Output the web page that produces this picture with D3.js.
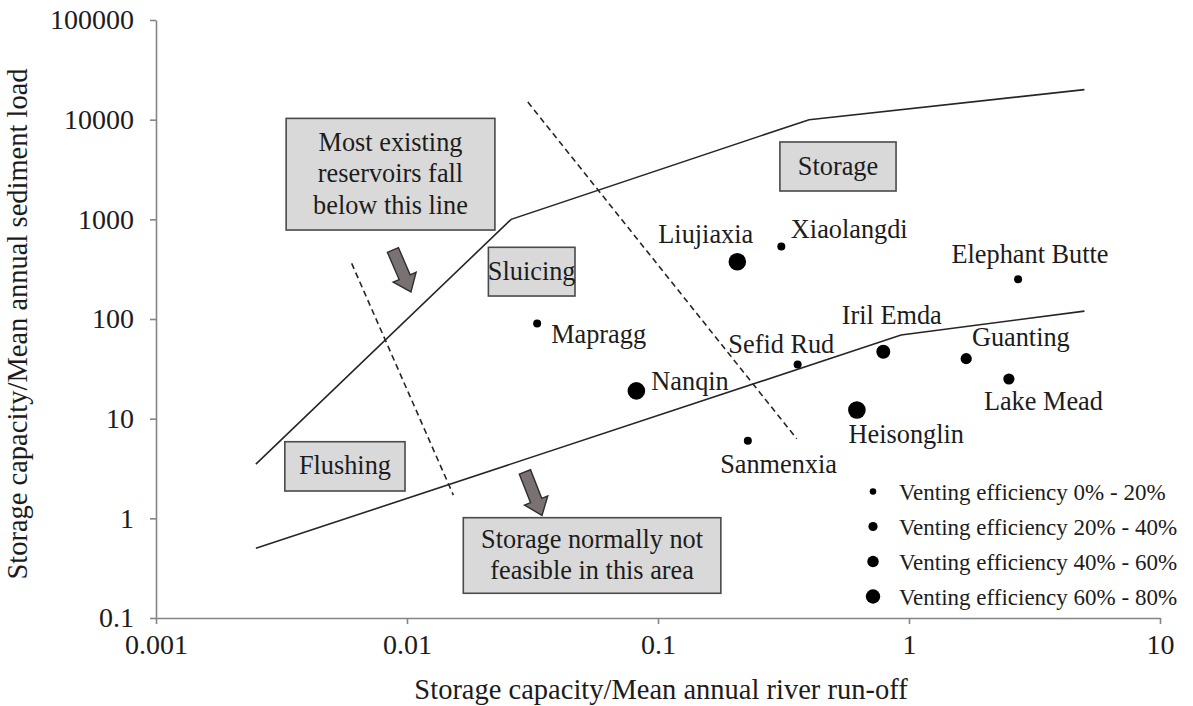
<!DOCTYPE html>
<html>
<head>
<meta charset="utf-8">
<script src="https://cdn.jsdelivr.net/npm/d3@7"></script>
<style>
  html, body { margin: 0; padding: 0; background: #ffffff; }
  svg text { font-family: "Liberation Serif", "Times New Roman", Times, "Noto Serif", "DejaVu Serif", serif; fill: #1c1c1c; }
</style>
</head>
<body>
<svg id="chart" width="1193" height="706"></svg>
<script>
// ---- Reservoir data ----
const reservoirs       = ["Mapragg", "Nanqin", "Liujiaxia", "Xiaolangdi", "Elephant Butte", "Iril Emda",
                          "Sefid Rud", "Guanting", "Lake Mead", "Heisonglin", "Sanmenxia"];
const capacityRunoff   = [0.033, 0.082, 0.207, 0.31, 2.72, 0.79, 0.36, 1.69, 2.5, 0.62, 0.228];
const capacitySediment = [90, 19, 375, 535, 250, 47, 35, 40, 25, 12.2, 6];
const ventingClass     = [0, 3, 3, 0, 0, 2, 0, 1, 1, 3, 0];   // index into ventingLabels
const ventingLabels    = ["Venting efficiency 0% - 20%", "Venting efficiency 20% - 40%",
                          "Venting efficiency 40% - 60%", "Venting efficiency 60% - 80%"];

// ---- Axis ticks ----
const xTicks      = [0.001, 0.01, 0.1, 1, 10];
const xTickLabels = ["0.001", "0.01", "0.1", "1", "10"];
const yTicks      = [0.1, 1, 10, 100, 1000, 10000, 100000];
const yTickLabels = ["0.1", "1", "10", "100", "1000", "10000", "100000"];

// ---- Boundary lines between management strategies ----
const upperLineX = [0.0025, 0.026, 0.4, 5];
const upperLineY = [3.5, 1000, 10000, 20000];
const lowerLineX = [0.0025, 0.93, 5];
const lowerLineY = [0.5, 69, 120];
const flushLimitX = [0.00602, 0.0153];
const flushLimitY = [361, 1.71];
const sluiceLimitX = [0.0303, 0.357];
const sluiceLimitY = [15000, 6.3];

// ---- Region annotations (data-space boxes) ----
const noteText = [["Most existing", "reservoirs fall", "below this line"], ["Sluicing"], ["Storage"],
                  ["Flushing"], ["Storage normally not", "feasible in this area"]];
const noteX0 = [0.0033, 0.0211, 0.306, 0.00326, 0.01676];
const noteX1 = [0.0224, 0.0467, 0.888, 0.00982, 0.178];
const noteYTop = [10300, 524, 5970, 5.87, 1.015];
const noteYBottom = [781, 170, 1924, 1.88, 0.177];

// ---- Pointer arrows (tail -> tip, data space) ----
const arrowTailX = [0.00879, 0.0295];
const arrowTailY = [492, 2.92];
const arrowTipX  = [0.01037, 0.0345];
const arrowTipY  = [187, 1.07];

// ---- Layout ----
const plot = { left: 156, right: 1160, top: 20, bottom: 618 };
const serif = "'Liberation Serif','Times New Roman',Times,'Noto Serif','DejaVu Serif',serif";
const fontSize = 26.3;
const tickFontSize = 28;
const titleFontSize = 28.5;
const dotRadius = [4, 5.6, 7, 8.8];
const labelOffset = {
  "Mapragg": [14, 19], "Nanqin": [15, -1], "Liujiaxia": [-79, -19], "Xiaolangdi": [9.5, -8],
  "Elephant Butte": [-66.6, -16.6], "Iril Emda": [-41.6, -27.7], "Sefid Rud": [-69.3, -11.6],
  "Guanting": [5.7, -12.3], "Lake Mead": [-25, 30.7], "Heisonglin": [-8.3, 32.7], "Sanmenxia": [-27.7, 32]
};

const svg = d3.select("#chart");

const x = d3.scaleLog().domain([0.001, 10]).range([plot.left, plot.right]);
const y = d3.scaleLog().domain([0.1, 100000]).range([plot.bottom, plot.top]);

// ---- Axes ----
const axisColor = "#858585";
const xAxis = d3.axisBottom(x).tickValues(xTicks)
  .tickFormat((d, i) => xTickLabels[i]).tickSize(6).tickSizeOuter(0).tickPadding(10);
const yAxis = d3.axisLeft(y).tickValues(yTicks)
  .tickFormat((d, i) => yTickLabels[i]).tickSize(6).tickSizeOuter(0).tickPadding(16);

const gx = svg.append("g").attr("transform", `translate(0,${plot.bottom})`).call(xAxis);
const gy = svg.append("g").attr("transform", `translate(${plot.left},0)`).call(yAxis);
[gx, gy].forEach(g => {
  g.attr("font-family", serif);
  g.select(".domain").attr("stroke", axisColor).attr("stroke-width", 1.6);
  g.selectAll(".tick line").attr("stroke", axisColor).attr("stroke-width", 1.6);
  g.selectAll(".tick text").attr("font-size", tickFontSize).attr("font-family", serif).attr("fill", "#1c1c1c");
});

// Axis titles
svg.append("text")
  .attr("x", (plot.left + plot.right) / 2 + 3).attr("y", 699)
  .attr("text-anchor", "middle").attr("font-size", titleFontSize)
  .text("Storage capacity/Mean annual river run-off");
svg.append("text")
  .attr("transform", `translate(27,${(plot.top + plot.bottom) / 2 + 5}) rotate(-90)`)
  .attr("text-anchor", "middle").attr("font-size", titleFontSize)
  .text("Storage capacity/Mean annual sediment load");

// ---- Boundary lines ----
const line = d3.line().x(d => x(d[0])).y(d => y(d[1]));
const lines = [
  { xs: upperLineX, ys: upperLineY, dash: null },
  { xs: lowerLineX, ys: lowerLineY, dash: null },
  { xs: flushLimitX, ys: flushLimitY, dash: "6,4" },
  { xs: sluiceLimitX, ys: sluiceLimitY, dash: "6,4" }
];
svg.append("g").selectAll("path").data(lines).join("path")
  .attr("d", l => line(d3.zip(l.xs, l.ys)))
  .attr("fill", "none").attr("stroke", "#262626").attr("stroke-width", 1.6)
  .attr("stroke-dasharray", l => l.dash);

// ---- Region annotation boxes ----
const notes = noteText.map((t, i) => ({ t, x0: noteX0[i], x1: noteX1[i], yt: noteYTop[i], yb: noteYBottom[i] }));
const ng = svg.append("g").selectAll("g").data(notes).join("g");
ng.append("rect")
  .attr("x", d => x(d.x0)).attr("y", d => y(d.yt))
  .attr("width", d => x(d.x1) - x(d.x0)).attr("height", d => y(d.yb) - y(d.yt))
  .attr("fill", "#d9d9d9").attr("stroke", "#4a4a4a").attr("stroke-width", 1.6);
ng.each(function (d) {
  const cx = (x(d.x0) + x(d.x1)) / 2;
  const cy = (y(d.yt) + y(d.yb)) / 2;
  const lh = 31.5;
  d.t.forEach((s, i) => {
    d3.select(this).append("text")
      .attr("x", cx).attr("y", cy + (i - (d.t.length - 1) / 2) * lh + 8)
      .attr("text-anchor", "middle").attr("font-size", fontSize).text(s);
  });
});

// ---- Arrows ----
function arrowPath(tx, ty, px, py) {
  const dx = px - tx, dy = py - ty, L = Math.hypot(dx, dy);
  const ux = dx / L, uy = dy / L, nx = -uy, ny = ux;
  const sw = 6, hw = 12.5, hl = 16;
  const bx = px - ux * hl, by = py - uy * hl;
  const pts = [
    [tx + nx * sw, ty + ny * sw], [bx + nx * sw, by + ny * sw], [bx + nx * hw, by + ny * hw],
    [px, py], [bx - nx * hw, by - ny * hw], [bx - nx * sw, by - ny * sw], [tx - nx * sw, ty - ny * sw]
  ];
  return "M" + pts.map(p => p.join(",")).join("L") + "Z";
}
svg.append("g").selectAll("path").data(arrowTailX.map((_, i) => i)).join("path")
  .attr("d", i => arrowPath(x(arrowTailX[i]), y(arrowTailY[i]), x(arrowTipX[i]), y(arrowTipY[i])))
  .attr("fill", "#7a7272").attr("stroke", "#2e2e2e").attr("stroke-width", 1.4)
  .attr("stroke-linejoin", "miter");

// ---- Reservoir points and labels ----
const pts = reservoirs.map((name, i) => ({ name, cx: capacityRunoff[i], cy: capacitySediment[i], c: ventingClass[i] }));
svg.append("g").selectAll("circle").data(pts).join("circle")
  .attr("cx", d => x(d.cx)).attr("cy", d => y(d.cy)).attr("r", d => dotRadius[d.c]).attr("fill", "#000");
svg.append("g").selectAll("text").data(pts).join("text")
  .attr("x", d => x(d.cx) + labelOffset[d.name][0])
  .attr("y", d => y(d.cy) + labelOffset[d.name][1])
  .attr("font-size", fontSize).text(d => d.name);

// ---- Legend ----
const legend = svg.append("g").attr("transform", "translate(873,491.5)");
const lg = legend.selectAll("g").data(ventingLabels).join("g")
  .attr("transform", (d, i) => `translate(0,${i * 35})`);
lg.append("circle").attr("r", (d, i) => dotRadius[i] * 0.82).attr("fill", "#000");
lg.append("text").attr("x", 26).attr("y", 8.5).attr("font-size", 23).text(d => d);
</script>
</body>
</html>
